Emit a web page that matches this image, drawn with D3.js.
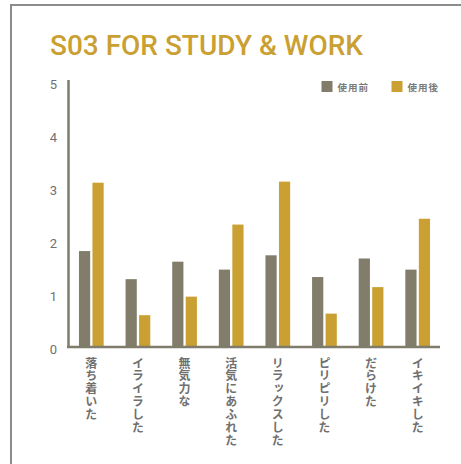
<!DOCTYPE html>
<html>
<head>
<meta charset="utf-8">
<script src="https://cdn.jsdelivr.net/npm/d3@7"></script>
<style>
  html, body { margin: 0; padding: 0; background: #ffffff; }
  svg { display: block; }
</style>
</head>
<body>
<script>
// Mood ratings before and after use
const categories = ["落ち着いた", "イライラした", "無気力な", "活気にあふれた", "リラックスした", "ピリピリした", "だらけた", "イキイキした"];
const seriesNames = ["使用前", "使用後"];
const beforeValues = [1.81, 1.28, 1.61, 1.46, 1.73, 1.32, 1.67, 1.46];
const afterValues = [3.10, 0.60, 0.95, 2.31, 3.12, 0.63, 1.13, 2.42];
const yTicks = [0, 1, 2, 3, 4, 5];
const titleText = "S03 FOR STUDY & WORK";

const W = 461, H = 464;
const colors = { "使用前": "#817d6a", "使用後": "#c9a031" };
const axisColor = "#7f7c6c";
const labelColor = "#707070";

const rows = categories.map((c, i) => ({ cat: c, "使用前": beforeValues[i], "使用後": afterValues[i] }));

const svg = d3.select("body").append("svg").attr("width", W).attr("height", H);

// page frame (top and left rules)
svg.append("line").attr("x1", 11).attr("x2", W).attr("y1", 5).attr("y2", 5)
  .attr("stroke", "#8c8c8c").attr("stroke-width", 2);
svg.append("line").attr("x1", 11).attr("x2", 11).attr("y1", 4).attr("y2", H)
  .attr("stroke", "#8c8c8c").attr("stroke-width", 2);

// title
svg.append("text")
  .attr("x", 50).attr("y", 55)
  .attr("font-family", "Roboto, 'DejaVu Sans', sans-serif")
  .attr("font-weight", 500)
  .attr("font-size", 28)
  .attr("textLength", 313)
  .attr("lengthAdjust", "spacingAndGlyphs")
  .attr("fill", "#c9a031")
  .text(titleText);

// scales
const x0 = d3.scaleBand().domain(categories).range([68, 441]).paddingInner(0).paddingOuter(0);
const groupW = 24.7;
const x1 = d3.scaleBand().domain(seriesNames).range([0, groupW]).paddingInner(0.17).paddingOuter(0);
const y = d3.scaleLinear().domain([0, 5]).range([347, 82]);

// bars
const groups = svg.append("g").selectAll("g").data(rows).join("g")
  .attr("transform", d => `translate(${x0(d.cat) + x0.bandwidth() / 2 - groupW / 2},0)`);
groups.selectAll("rect")
  .data(d => seriesNames.map(k => ({ key: k, value: d[k] })))
  .join("rect")
  .attr("x", d => x1(d.key))
  .attr("width", x1.bandwidth())
  .attr("y", d => y(d.value))
  .attr("height", d => y(0) - y(d.value))
  .attr("fill", d => colors[d.key]);

// y axis: labels only, with a plain vertical rule
const yAxis = d3.axisLeft(y).tickValues(yTicks).tickSize(0).tickPadding(0).tickFormat(d3.format("d"));
const gy = svg.append("g").attr("transform", "translate(57,0)").call(yAxis);
gy.select(".domain").remove();
gy.selectAll("text")
  .attr("font-family", "Roboto, 'DejaVu Sans', sans-serif")
  .attr("font-size", 13)
  .attr("fill", labelColor)
  .attr("dy", "0.5em");

svg.append("line").attr("x1", 68.5).attr("x2", 68.5).attr("y1", 80).attr("y2", y(0) + 1)
  .attr("stroke", axisColor).attr("stroke-width", 2.5);
svg.append("line").attr("x1", 67).attr("x2", 440).attr("y1", y(0)).attr("y2", y(0))
  .attr("stroke", axisColor).attr("stroke-width", 2.5);

// category labels, written vertically
const xAxis = d3.axisBottom(x0).tickSize(0).tickPadding(0);
const gx = svg.append("g").attr("transform", `translate(0,${y(0) + 10})`).call(xAxis);
gx.select(".domain").remove();
gx.selectAll("text")
  .attr("y", 0).attr("dy", 0)
  .attr("text-anchor", "start")
  .style("writing-mode", "vertical-rl")
  .style("text-orientation", "upright")
  .attr("font-family", "'Noto Sans CJK JP', sans-serif")
  .attr("font-weight", 700)
  .attr("font-size", 12)
  .attr("letter-spacing", 0.9)
  .attr("fill", labelColor);

// legend
const legendPos = [321.5, 391.5];
const legend = svg.append("g").selectAll("g").data(seriesNames).join("g")
  .attr("transform", (d, i) => `translate(${legendPos[i]},81)`);
legend.append("rect").attr("width", 11).attr("height", 11).attr("fill", d => colors[d]);
legend.append("text")
  .attr("x", 16).attr("y", 9.5)
  .attr("font-family", "'Noto Sans CJK JP', sans-serif")
  .attr("font-weight", 700)
  .attr("font-size", 9.5)
  .attr("letter-spacing", 1)
  .attr("fill", "#7a7a7a")
  .text(d => d);
</script>
</body>
</html>
